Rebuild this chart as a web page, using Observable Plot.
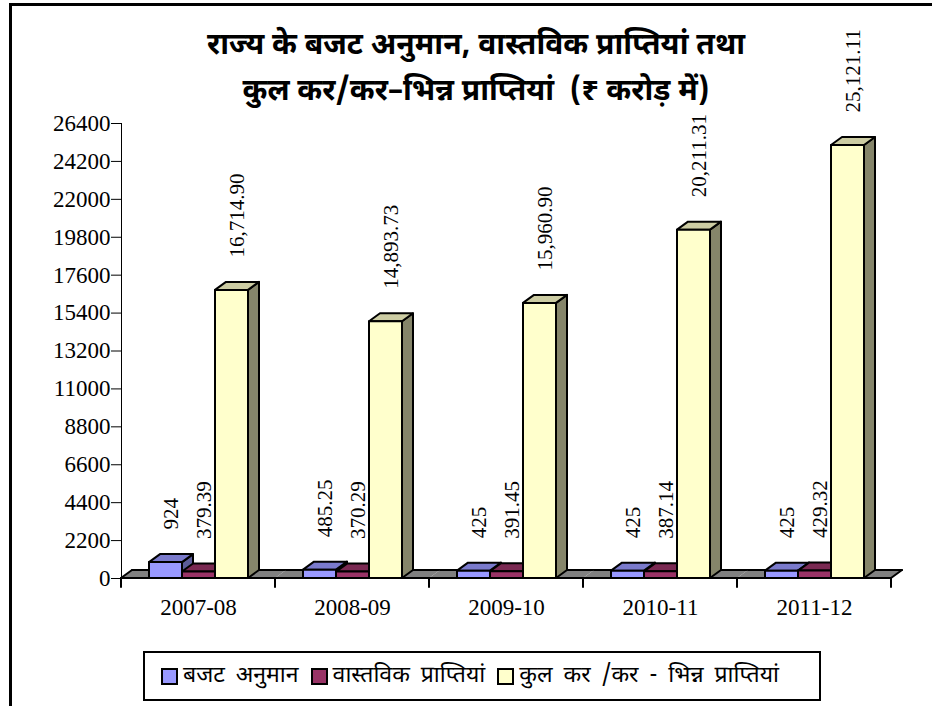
<!DOCTYPE html>
<html>
<head>
<meta charset="utf-8">
<script src="https://cdn.jsdelivr.net/npm/d3@7"></script>
<script src="https://cdn.jsdelivr.net/npm/@observablehq/plot@0.6"></script>
<style>
  html, body { margin: 0; padding: 0; background: #fff; }
  #wrap { position: relative; width: 932px; height: 706px; overflow: hidden; background: #fff; }
  .frame-top { position: absolute; left: 9px; top: 3px; width: 923px; height: 3px; background: #000; }
  .frame-left { position: absolute; left: 9px; top: 3px; width: 3px; height: 703px; background: #000; }
  .title { position: absolute; left: 0; width: 952px; text-align: center; font-family: "Noto Sans Devanagari", "Lohit Devanagari", "Mangal", sans-serif; font-weight: bold; font-size: 30px; color: #000; white-space: pre; }
  #chart { position: absolute; left: 0; top: 0; }
  #chart svg, #chart svg g, #chart svg text { font-family: "Liberation Serif", "Times New Roman", "DejaVu Serif", serif !important; font-variant: normal !important; }
  .legend { position: absolute; left: 143px; top: 651px; width: 658px; height: 46px; border: 2px solid #000; box-sizing: content-box; display: flex; align-items: center; padding-left: 16px; font-family: "Noto Sans Devanagari", "Lohit Devanagari", sans-serif; font-size: 23px; word-spacing: 5px; color: #000; }
  .legend .item { display: flex; align-items: center; margin-right: 12px; white-space: pre; }
  .legend .sw { width: 13px; height: 13px; border: 2px solid #000; margin-right: 5px; }
</style>
</head>
<body>
<div id="wrap">
  <div class="frame-top"></div>
  <div class="frame-left"></div>
  <div id="chart"></div>
  <div class="title" style="top:27px">राज्य के बजट अनुमान, वास्तविक प्राप्तियां तथा</div>
  <div class="title" style="top:73px">कुल कर/कर–भिन्न प्राप्तियां  (₹ करोड़ में)</div>
  <div class="legend" id="legend"></div>
</div>
<script>
const years = ["2007-08", "2008-09", "2009-10", "2010-11", "2011-12"];
const seriesNames = ["बजट अनुमान", "वास्तविक प्राप्तियां", "कुल कर/कर-भिन्न प्राप्तियां"];
const legendLabels = ["बजट अनुमान", "वास्तविक प्राप्तियां", "कुल कर /कर - भिन्न प्राप्तियां"];
const budgetEstimates = [924, 485.25, 425, 425, 425];
const actualReceipts = [379.39, 370.29, 391.45, 387.14, 429.32];
const totalReceipts = [16714.90, 14893.73, 15960.90, 20211.31, 25121.11];
const yTicks = [0, 2200, 4400, 6600, 8800, 11000, 13200, 15400, 17600, 19800, 22000, 24200, 26400];
const colors = ["#9999FF", "#993366", "#FFFFCC"];

const seriesValues = [budgetEstimates, actualReceipts, totalReceipts];
const data = years.flatMap((year, i) =>
  seriesValues.map((arr, s) => ({year, s, series: seriesNames[s], value: arr[i]}))
);
const fmtTotal = d3.format(",.2f");
const labelOf = d => d.s === 2 ? fmtTotal(d.value) : String(d.value);

const DX = 11, DY = 8;
function shade(c, k) {
  const r = d3.rgb(c);
  return d3.rgb(r.r * k, r.g * k, r.b * k).formatHex();
}

function floorRender(index, scales) {
  const {x, y} = scales;
  const [r0, r1] = x.range();
  const y0 = y(0);
  const g = d3.create("svg:g").attr("stroke-linecap", "round");
  const first = index.length && data[index[0]].year === years[0];
  const last = index.length && data[index[0]].year === years[years.length - 1];
  g.append("path")
    .attr("d", `M${r0},${y0}L${r0 + DX},${y0 - DY}L${r1 + DX},${y0 - DY}L${r1},${y0}Z`)
    .attr("fill", "#808080");
  g.append("path").attr("d", `M${r0 + DX},${y0 - DY}H${r1 + DX}`).attr("stroke", "#000").attr("stroke-width", 2);
  g.append("path").attr("d", `M${r0},${y0}H${r1}`).attr("stroke", "#000").attr("stroke-width", 2);
  if (first) g.append("path").attr("d", `M${r0},${y0}L${r0 + DX},${y0 - DY}`).attr("stroke", "#000").attr("stroke-width", 2);
  if (last) g.append("path").attr("d", `M${r1},${y0}L${r1 + DX},${y0 - DY}`).attr("stroke", "#000").attr("stroke-width", 2);
  g.append("path").attr("d", `M${r0},${y0}V${y0 + 9}`).attr("stroke", "#000").attr("stroke-width", 2);
  if (last) g.append("path").attr("d", `M${r1},${y0}V${y0 + 9}`).attr("stroke", "#000").attr("stroke-width", 2);
  return g.node();
}

function barsRender(index, scales) {
  const {x, y} = scales;
  const bw = x.bandwidth();
  const y0 = y(0);
  const g = d3.create("svg:g").attr("stroke", "#000").attr("stroke-width", 2).attr("stroke-linejoin", "round");
  for (const i of index) {
    const d = data[i];
    const x0 = x(d.series), x1 = x0 + bw, yt = y(d.value);
    const c = colors[d.s];
    g.append("path")
      .attr("d", `M${x1},${yt}L${x1 + DX},${yt - DY}L${x1 + DX},${y0 - DY}L${x1},${y0}Z`)
      .attr("fill", shade(c, d.s === 2 ? 0.52 : 0.6));
    g.append("path")
      .attr("d", `M${x0},${yt}L${x0 + DX},${yt - DY}L${x1 + DX},${yt - DY}L${x1},${yt}Z`)
      .attr("fill", shade(c, 0.8));
    g.append("rect").attr("x", x0).attr("y", yt).attr("width", bw).attr("height", y0 - yt).attr("fill", c);
  }
  return g.node();
}

const chart = Plot.plot({
  width: 932,
  height: 640,
  marginLeft: 120,
  marginRight: 40,
  marginTop: 123,
  marginBottom: 62,
  style: {fontFamily: "'Liberation Serif', 'Times New Roman', serif", fontSize: "23px", color: "#000", background: "transparent"},
  fx: {domain: years, padding: 0, tickSize: 0, tickPadding: 20, label: null, axis: "bottom"},
  x: {domain: seriesNames, paddingInner: 0, paddingOuter: 0.77, axis: null},
  y: {domain: [0, 26400], ticks: yTicks, tickFormat: d => String(d), tickSize: 10, tickPadding: 1, label: null, line: true},
  marks: [
    Plot.barY(data, {fx: "year", x: "series", y: "value", render: floorRender}),
    Plot.barY(data, {fx: "year", x: "series", y: "value", render: barsRender}),
    Plot.text(data, {fx: "year", x: "series", y: "value", text: labelOf, rotate: -90, textAnchor: "start", dx: 5, dy: -33, fontSize: 21, fontFamily: "Liberation Serif"})
  ]
});
document.getElementById("chart").appendChild(chart);

const legend = document.getElementById("legend");
legendLabels.forEach((name, s) => {
  const item = document.createElement("div");
  item.className = "item";
  const sw = document.createElement("div");
  sw.className = "sw";
  sw.style.background = colors[s];
  const t = document.createElement("span");
  t.textContent = name;
  item.appendChild(sw);
  item.appendChild(t);
  legend.appendChild(item);
});
</script>
</body>
</html>
